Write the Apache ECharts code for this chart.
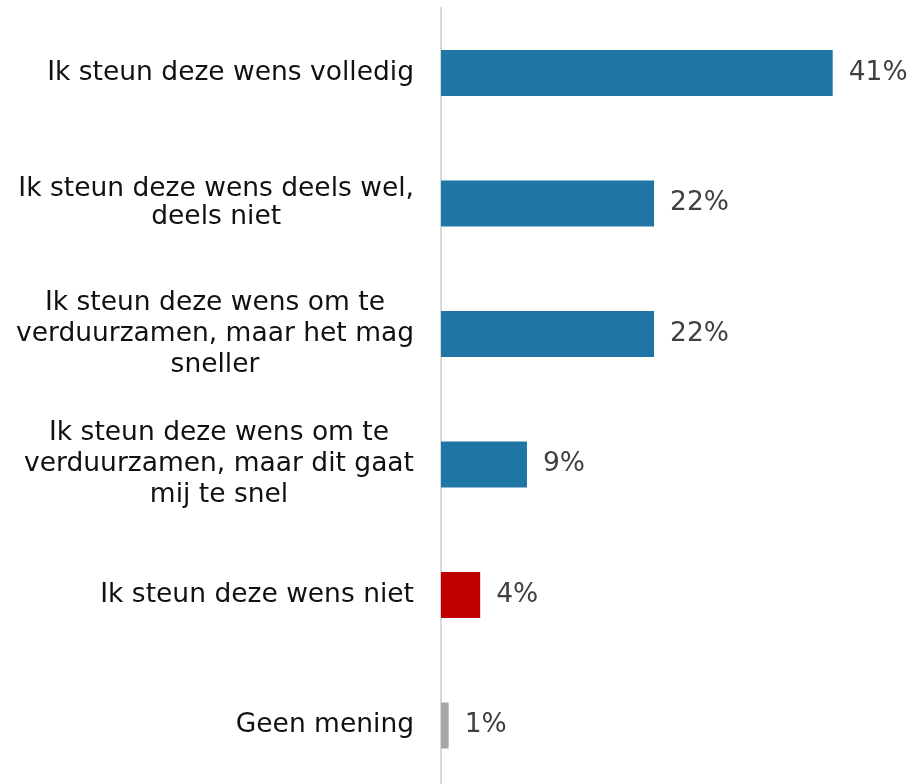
<!DOCTYPE html>
<html>
<head>
<meta charset="utf-8">
<script src="https://cdn.jsdelivr.net/npm/echarts@6/dist/echarts.min.js"></script>
<style>
html,body{margin:0;padding:0;background:#fff;overflow:hidden;}
#chart{width:912px;height:800px;}
</style>
</head>
<body>
<div id="chart"></div>
<script>
const categories = [
  "Ik steun deze wens volledig",
  "Ik steun deze wens deels wel,\ndeels niet",
  "Ik steun deze wens om te\nverduurzamen, maar het mag\nsneller",
  "Ik steun deze wens om te\nverduurzamen, maar dit gaat\nmij te snel",
  "Ik steun deze wens niet",
  "Geen mening"
];
const values = [41.0, 22.3, 22.3, 9.0, 4.1, 0.8];
const labels = ["41%", "22%", "22%", "9%", "4%", "1%"];
const colors = ["#1F76A6", "#1F76A6", "#1F76A6", "#1F76A6", "#C00000", "#A6A6A6"];

const chart = echarts.init(document.getElementById('chart'), null, {renderer: 'canvas'});
const FONT = '"DejaVu Sans", Verdana, sans-serif';
chart.setOption({
  animation: false,
  backgroundColor: '#ffffff',
  grid: {left: 441, top: 7.75, width: 471, height: 783, containLabel: false},
  xAxis: {
    type: 'value', min: 0, max: 49.3,
    show: false
  },
  yAxis: {
    type: 'category',
    data: categories,
    inverse: true,
    axisLine: {show: true, lineStyle: {color: '#D9D9D9', width: 2}},
    axisTick: {show: false},
    splitLine: {show: false},
    axisLabel: {
      margin: 27,
      formatter: function (v) {
        const lines = v.split('\n');
        const key = lines.length === 2 ? 'b' : 'c';
        return lines.map(l => '{' + key + '|' + l + '}').join('\n');
      },
      rich: {
        b: {align: 'center', fontFamily: FONT, fontSize: 26.5, color: '#111111', lineHeight: 28},
        c: {align: 'center', fontFamily: FONT, fontSize: 26.5, color: '#111111', lineHeight: 31}
      }
    }
  },
  series: [{
    type: 'bar',
    barWidth: 46,
    data: values.map((v, i) => ({value: v, itemStyle: {color: colors[i]}})),
    label: {
      show: true,
      position: 'right',
      distance: 16,
      fontFamily: FONT,
      fontSize: 26.5,
      color: '#404040',
      formatter: p => labels[p.dataIndex]
    }
  }]
});
</script>
</body>
</html>
